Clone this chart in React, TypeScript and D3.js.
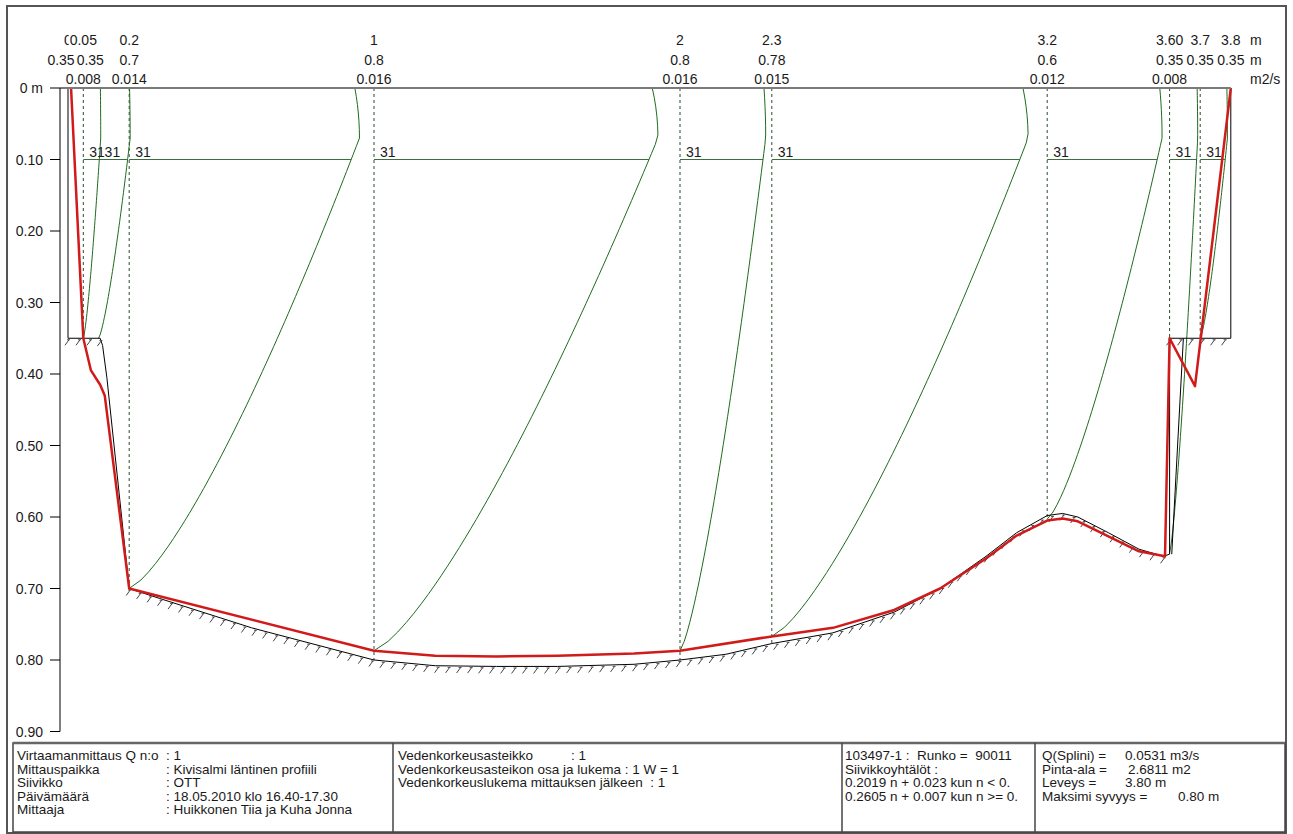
import React from "react";
import * as d3 from "d3";

// ---------- verticals (top labels) ----------
const stations = [0, 0.05, 0.2, 1, 2, 2.3, 3.2, 3.6, 3.7, 3.8];
const stationLabels = ["0", "0.05", "0.2", "1", "2", "2.3", "3.2", "3.60", "3.7", "3.8"];
const depthValues = [0.35, 0.35, 0.7, 0.8, 0.8, 0.78, 0.6, 0.35, 0.35, 0.35];
const depthLabels = ["0.35", "0.35", "0.7", "0.8", "0.8", "0.78", "0.6", "0.35", "0.35", "0.35"];
const dischargeLabels = ["", "0.008", "0.014", "0.016", "0.016", "0.015", "0.012", "0.008", "", ""];
const dashedVertical = [false, true, true, true, true, true, true, true, true, false];

// ---------- velocity profiles ----------
const profileStations = [0.05, 0.1, 0.2, 1, 2, 2.3, 3.2, 3.6, 3.7];
const profileDepths = [0.35, 0.35, 0.7, 0.787, 0.787, 0.767, 0.603, 0.65, 0.35];
const pointVelocities = [0.0016, 0.0029, 0.0222, 0.0275, 0.0083, 0.0248, 0.011, 0.0027, 0.0025];
const pointCounts = ["31", "31", "31", "31", "31", "31", "31", "31", "31"];
const pointDepth = 0.1;

// ---------- bed (black) ----------
const bedStations = [0, 0, 0.105, 0.113, 0.127, 0.2, 0.3, 0.6, 1.0, 1.2, 1.4, 1.6, 1.85, 2.0, 2.15, 2.3, 2.5, 2.7, 2.85, 3.0, 3.1, 3.2, 3.25, 3.3, 3.4, 3.5, 3.58, 3.6, 3.6, 3.8, 3.8];
const bedDepths = [0, 0.35, 0.35, 0.36, 0.405, 0.7, 0.714, 0.755, 0.8, 0.808, 0.809, 0.809, 0.806, 0.8, 0.792, 0.777, 0.762, 0.733, 0.7, 0.655, 0.622, 0.598, 0.595, 0.6, 0.622, 0.645, 0.655, 0.652, 0.35, 0.35, 0];
const bankStations = [3.645, 3.607];
const bankDepths = [0.35, 0.652];

// ---------- measured depth line (red) ----------
const redStations = [0.01, 0.05, 0.075, 0.105, 0.12, 0.2, 1.0, 1.2, 1.4, 1.6, 1.85, 2.0, 2.3, 2.5, 2.7, 2.85, 3.0, 3.1, 3.2, 3.25, 3.3, 3.4, 3.5, 3.585, 3.6, 3.683, 3.8];
const redDepths = [0, 0.35, 0.395, 0.415, 0.43, 0.7, 0.787, 0.794, 0.795, 0.794, 0.791, 0.787, 0.767, 0.755, 0.73, 0.7, 0.658, 0.626, 0.605, 0.602, 0.606, 0.627, 0.648, 0.655, 0.35, 0.417, 0];

// ---------- depth axis ----------
const depthTicks = [0, 0.1, 0.2, 0.3, 0.4, 0.5, 0.6, 0.7, 0.8, 0.9];
const depthTickLabels = ["0  m", "0.10", "0.20", "0.30", "0.40", "0.50", "0.60", "0.70", "0.80", "0.90"];
const unitLabels = ["m", "m", "m2/s"];

// ---------- info table ----------
const infoLabels = ["Virtaamanmittaus Q n:o", "Mittauspaikka", "Siivikko", "Päivämäärä", "Mittaaja"];
const infoValues = [": 1", ": Kivisalmi läntinen profiili", ": OTT", ": 18.05.2010 klo 16.40-17.30", ": Huikkonen Tiia ja Kuha Jonna"];
const gaugeLines = ["Vedenkorkeusasteikko", "Vedenkorkeusasteikon osa ja lukema : 1 W = 1", "Vedenkorkeuslukema mittauksen jälkeen  : 1"];
const gaugeFirstValue = ": 1";
const meterLines = ["103497-1 :  Runko =  90011", "Siivikkoyhtälöt :", "0.2019 n + 0.023 kun n < 0.", "0.2605 n + 0.007 kun n >= 0."];
const resultLabels = ["Q(Splini) =", "Pinta-ala =", "Leveys =", "Maksimi syvyys ="];
const resultValues = ["0.0531 m3/s", "2.6811 m2", "3.80 m", "0.80 m"];

// ---------- layout / style ----------
const FONT = "'Liberation Sans', Arial, sans-serif";
const FS = 14;
const TABLE_FS = 13.5;
const TEXT = "#1a1a1a";
const GREEN = "#1e6b1e";
const resultValueX = [1125, 1128, 1125, 1178];

let measureCtx: CanvasRenderingContext2D | null = null;
function textWidth(s: string) {
  if (!measureCtx) {
    const c = document.createElement("canvas");
    measureCtx = c.getContext("2d");
  }
  if (!measureCtx) return s.length * 7;
  measureCtx.font = `${FS}px ${FONT}`;
  return measureCtx.measureText(s).width;
}

function profileShape(d: number, D: number) {
  const dm = 0.07;
  const a = 0.75;
  if (d >= dm) return Math.pow(Math.max(0, (D - d) / (D - dm)), a);
  const t = (dm - d) / dm;
  return 1 - 0.02 * t * t;
}

export default function App() {
  const x = d3.scaleLinear().domain([0, 3.8]).range([68, 68 + 306 * 3.8]);
  const y = d3.scaleLinear().domain([0, 0.9]).range([88, 88 + 0.9 * 715]);
  const v = d3.scaleLinear().domain([0, 0.01]).range([0, 100]);
  const axisX = 60;

  const line = d3.line<[number, number]>().x((p) => x(p[0])).y((p) => y(p[1]));

  const bedPts: [number, number][] = bedStations.map((s, i) => [s, bedDepths[i]]);
  const redPts: [number, number][] = redStations.map((s, i) => [s, redDepths[i]]);
  const bankPts: [number, number][] = bankStations.map((s, i) => [s, bankDepths[i]]);

  // hatch marks along bed
  const screenBed = bedPts.map((p) => [x(p[0]), y(p[1])] as [number, number]);
  const hatches: [number, number][] = [];
  let carry = 0;
  for (let i = 0; i < screenBed.length - 1; i++) {
    const [x0, y0] = screenBed[i];
    const [x1, y1] = screenBed[i + 1];
    const dx = x1 - x0, dy = y1 - y0;
    const len = Math.hypot(dx, dy);
    if (Math.abs(dx) < 1 || Math.abs(dy / dx) > 3) { carry = 0; continue; }
    let t = carry;
    while (t < len) {
      hatches.push([x0 + (dx * t) / len, y0 + (dy * t) / len]);
      t += 11;
    }
    carry = t - len;
  }

  // velocity profiles
  const profiles = profileStations.map((s, i) => {
    const D = profileDepths[i];
    const vmax = pointVelocities[i] / profileShape(pointDepth, D);
    const pts = d3.range(0, 61).map((k) => {
      const d = (D * k) / 60;
      return [x(s) + v(vmax * profileShape(d, D)), y(d)] as [number, number];
    });
    return { s, pts, vp: pointVelocities[i], count: pointCounts[i] };
  });
  const screenLine = d3.line<[number, number]>();

  // top labels; strongly overlapping neighbours are spread apart
  const rows = [stationLabels, depthLabels, dischargeLabels];
  const rowBaselines = [45, 65, 84];
  const labelBoxes = rows.map((row) => {
    const boxes = row.map((t, i) => ({ t, w: textWidth(t), cx: x(stations[i]) }));
    for (let i = 1; i < boxes.length; i++) {
      const a = boxes[i - 1], b = boxes[i];
      if (!a.t || !b.t) continue;
      const overlap = a.cx + a.w / 2 - (b.cx - b.w / 2);
      if (overlap > 4) {
        a.cx -= overlap / 2 + 1;
        b.cx += overlap / 2 + 1;
      }
    }
    return boxes;
  });

  const tableTop = 743, tableBottom = 832, tableLeft = 13, tableRight = 1285;
  const dividers = [393, 842, 1035];
  const rowY = (i: number) => 760 + i * 13.6;

  return (
    <svg width={1293} height={834} style={{ position: "absolute", left: 0, top: 0, background: "#fff" }} fontFamily={FONT} fontSize={FS}>
      <defs>
        <clipPath id="clip3"><rect x={dividers[1]} y={tableTop} width={dividers[2] - dividers[1] - 2} height={tableBottom - tableTop} /></clipPath>
      </defs>
      <rect x={0} y={0} width={1293} height={834} fill="#fff" />
      <rect x={7} y={6} width={1279} height={827} fill="none" stroke="#555" strokeWidth={2} />

      {stations.map((s, i) => dashedVertical[i] ? (
        <line key={"dv" + i} x1={x(s)} x2={x(s)} y1={y(0)} y2={y(depthValues[i])} stroke="#2b4a2b" strokeWidth={1} strokeDasharray="3,3" />
      ) : null)}

      {profiles.map((p, i) => (
        <g key={"pr" + i}>
          <path d={screenLine(p.pts) || ""} fill="none" stroke={GREEN} strokeWidth={1} />
          <line x1={x(p.s)} x2={x(p.s) + v(p.vp)} y1={y(pointDepth)} y2={y(pointDepth)} stroke="#3d6e3d" strokeWidth={1} />
          <text x={x(p.s) + 6} y={y(pointDepth) - 3} fill={TEXT}>{p.count}</text>
        </g>
      ))}

      <path d={line(bedPts) || ""} fill="none" stroke="#000" strokeWidth={1} />
      <path d={line(bankPts) || ""} fill="none" stroke="#000" strokeWidth={1} />
      {hatches.map((h, i) => (
        <g key={"h" + i}>
          <line x1={h[0] + 2} y1={h[1] + 1.5} x2={h[0] - 1} y2={h[1] + 1.5} stroke="#555" strokeWidth={1} />
          <line x1={h[0] + 1} y1={h[1] + 1.5} x2={h[0] - 3} y2={h[1] + 7} stroke="#444" strokeWidth={1} />
        </g>
      ))}

      <path d={line(redPts) || ""} fill="none" stroke="#d11a1a" strokeWidth={2.5} strokeLinejoin="round" />

      <line x1={axisX} x2={x(3.8)} y1={y(0)} y2={y(0)} stroke="#7a7a7a" strokeWidth={2} />

      <line x1={axisX} x2={axisX} y1={y(0)} y2={y(0.9)} stroke="#000" strokeWidth={1} />
      {depthTicks.map((t, i) => (
        <g key={"t" + i}>
          <line x1={axisX - 10} x2={axisX} y1={y(t)} y2={y(t)} stroke="#000" strokeWidth={1} />
          <text x={axisX - 17} y={y(t) + 5} textAnchor="end" fill={TEXT}>{depthTickLabels[i]}</text>
        </g>
      ))}

      {labelBoxes.map((row, r) => row.map((b, i) => b.t ? (
        <g key={"lb" + r + "-" + i}>
          <rect x={b.cx - b.w / 2 - 1} y={rowBaselines[r] - 12} width={b.w + 2} height={15} fill="#fff" />
          <text x={b.cx} y={rowBaselines[r]} textAnchor="middle" fill={TEXT}>{b.t}</text>
        </g>
      ) : null))}
      {unitLabels.map((u, r) => (
        <text key={"u" + r} x={1250} y={rowBaselines[r]} fill={TEXT}>{u}</text>
      ))}

      <g fontSize={TABLE_FS}>
        <rect x={tableLeft} y={tableTop} width={tableRight - tableLeft} height={tableBottom - tableTop} fill="#fff" stroke="#444" strokeWidth={1.5} />
        <line x1={tableLeft} x2={tableRight} y1={tableTop} y2={tableTop} stroke="#666" strokeWidth={2.5} />
        {dividers.map((d, i) => (
          <line key={"dvd" + i} x1={d} x2={d} y1={tableTop} y2={tableBottom} stroke="#444" strokeWidth={1.5} />
        ))}
        {infoLabels.map((l, i) => (
          <g key={"il" + i}>
            <text x={17} y={rowY(i)} fill={TEXT}>{l}</text>
            <text x={166} y={rowY(i)} fill={TEXT}>{infoValues[i]}</text>
          </g>
        ))}
        {gaugeLines.map((l, i) => (
          <text key={"gl" + i} x={398} y={rowY(i)} fill={TEXT} style={{ whiteSpace: "pre" }}>{l}</text>
        ))}
        <text x={571} y={rowY(0)} fill={TEXT}>{gaugeFirstValue}</text>
        <g clipPath="url(#clip3)">
          {meterLines.map((l, i) => (
            <text key={"ml" + i} x={845} y={rowY(i)} fill={TEXT} style={{ whiteSpace: "pre" }}>{l}</text>
          ))}
        </g>
        {resultLabels.map((l, i) => (
          <g key={"rl" + i}>
            <text x={1042} y={rowY(i)} fill={TEXT}>{l}</text>
            <text x={resultValueX[i]} y={rowY(i)} fill={TEXT}>{resultValues[i]}</text>
          </g>
        ))}
      </g>
    </svg>
  );
}
